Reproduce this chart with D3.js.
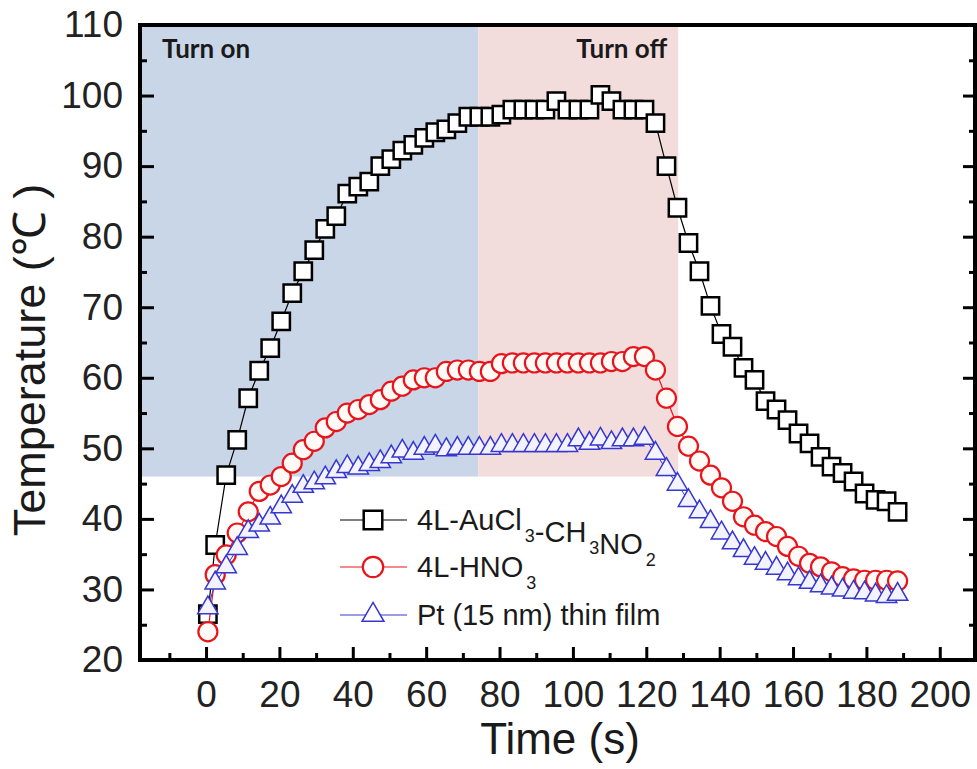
<!DOCTYPE html>
<html>
<head>
<meta charset="utf-8">
<script src="https://cdn.jsdelivr.net/npm/d3@7"></script>
<style>
  html, body { margin: 0; padding: 0; background: #fff; }
  svg { display: block; }
  .tick text { font-family: "Liberation Sans", Arial, sans-serif; fill: #222; }
</style>
</head>
<body>
<div id="chart"></div>
<script>
// time in seconds, one reading every 3 s
var times = [0.5, 2.5, 5.5, 8.5, 11.5, 14.5, 17.5, 20.5, 23.5, 26.5, 29.5, 32.5, 35.5, 38.5, 41.5, 44.5,
  47.5, 50.5, 53.5, 56.5, 59.5, 62.5, 65.5, 68.5, 71.5, 74.5, 77.5, 80.5, 83.5, 86.5, 89.5, 92.5,
  95.5, 98.5, 101.5, 104.5, 107.5, 110.5, 113.5, 116.5, 119.5, 122.5, 125.5, 128.5, 131.5, 134.5, 137.5, 140.5,
  143.5, 146.5, 149.5, 152.5, 155.5, 158.5, 161.5, 164.5, 167.5, 170.5, 173.5, 176.5, 179.5, 182.5, 185.5, 188.5];

var auclTemp = [26.5, 36.3, 46.2, 51.2, 57.1, 61.0, 64.2, 68.0, 72.0, 75.1, 78.1, 81.1, 82.9, 86.1, 87.1, 87.8,
  90.0, 91.0, 92.2, 93.0, 94.0, 94.8, 95.2, 96.1, 97.0, 97.0, 97.0, 97.3, 98.0, 98.0, 98.0, 98.0,
  99.2, 98.0, 98.0, 98.0, 100.1, 99.2, 98.0, 98.0, 98.0, 96.1, 90.0, 84.1, 79.1, 75.1, 70.2, 66.2,
  64.4, 61.4, 59.7, 56.7, 55.5, 54.0, 52.1, 50.7, 48.8, 47.4, 46.5, 45.3, 43.6, 42.7, 42.5, 41.0];

var hno3Temp = [24.0, 32.1, 34.9, 38.0, 41.0, 43.9, 44.8, 46.0, 47.9, 49.8, 51.0, 52.9, 53.8, 55.0, 55.5, 56.2,
  56.9, 58.1, 58.8, 59.7, 60.0, 60.0, 60.9, 61.1, 61.1, 60.9, 60.9, 62.0, 62.1, 62.1, 62.1, 62.1,
  62.1, 62.1, 62.1, 62.1, 62.1, 62.3, 62.3, 63.0, 63.0, 61.1, 57.1, 53.1, 50.3, 48.2, 46.2, 44.4,
  42.5, 40.3, 39.1, 38.2, 37.5, 36.1, 34.7, 33.7, 33.2, 32.5, 31.8, 31.5, 31.3, 31.3, 31.3, 31.2];

var ptTemp = [27.4, 30.9, 33.2, 35.8, 38.2, 39.1, 40.1, 41.7, 43.2, 44.6, 45.1, 45.8, 46.7, 47.4, 47.2, 47.7,
  48.1, 48.8, 49.6, 49.3, 50.0, 50.3, 49.8, 50.0, 50.0, 50.0, 50.0, 50.4, 50.4, 50.4, 50.4, 50.4,
  50.4, 50.4, 51.2, 50.7, 51.3, 50.8, 51.2, 51.2, 51.4, 49.3, 47.0, 44.9, 42.6, 41.0, 39.6, 38.0,
  36.6, 35.5, 34.4, 33.7, 33.0, 32.2, 31.5, 31.0, 30.5, 30.2, 29.9, 29.6, 29.5, 29.2, 29.0, 29.3];

var xTicks = [0, 20, 40, 60, 80, 100, 120, 140, 160, 180, 200];
var xMinor = [-10, 10, 30, 50, 70, 90, 110, 130, 150, 170, 190];
var yTicks = [20, 30, 40, 50, 60, 70, 80, 90, 100, 110];
var yMinor = [25, 35, 45, 55, 65, 75, 85, 95, 105];

// shaded phases: [start, end] in seconds, down to phaseBottom degrees
var phaseNames = ["Turn on", "Turn off"];
var phaseStart = [-18, 74.2];
var phaseEnd = [74.2, 128.7];
var phaseBottom = 46;

var seriesNames = ["4L-AuCl3-CH3NO2", "4L-HNO3", "Pt (15 nm) thin film"];

var W = 977, H = 769;
var svg = d3.select("#chart").append("svg")
  .attr("width", W)
  .attr("height", H);

var x = d3.scaleLinear().domain([-18, 209.6]).range([140, 975]);
var y = d3.scaleLinear().domain([20, 110]).range([660, 25]);

// phase shading
var phaseFill = ["#c8d6e8", "#f3dcdc"];
svg.selectAll(".phase")
  .data(phaseNames)
  .enter().append("rect")
  .attr("class", "phase")
  .attr("x", function (d, i) { return x(phaseStart[i]); })
  .attr("y", y(110))
  .attr("width", function (d, i) { return x(phaseEnd[i]) - x(phaseStart[i]); })
  .attr("height", y(phaseBottom) - y(110))
  .attr("fill", function (d, i) { return phaseFill[i]; });

svg.append("text")
  .attr("x", 162).attr("y", 58)
  .style("font-family", "Lato, 'Open Sans', sans-serif")
  .style("font-weight", 700).style("font-size", "26px").style("fill", "#1a1a1a")
  .text(phaseNames[0]);
svg.append("text")
  .attr("x", x(phaseEnd[1]) - 11).attr("y", 58)
  .attr("text-anchor", "end")
  .style("font-family", "Lato, 'Open Sans', sans-serif")
  .style("font-weight", 700).style("font-size", "26px").style("fill", "#1a1a1a")
  .text(phaseNames[1]);

// axes, ticks point inward
function styleAxis(g) {
  g.select(".domain").remove();
  g.selectAll(".tick line").attr("stroke", "#000").attr("stroke-width", 3);
}

svg.append("g")
  .attr("transform", "translate(0,660)")
  .call(d3.axisBottom(x).tickValues(xTicks).tickSizeInner(-13).tickSizeOuter(0).tickPadding(21))
  .call(styleAxis)
  .selectAll("text").style("font-size", "37px");
svg.append("g")
  .attr("transform", "translate(0,660)")
  .call(d3.axisBottom(x).tickValues(xMinor).tickSizeInner(-7).tickSizeOuter(0).tickFormat(""))
  .call(styleAxis);

svg.append("g")
  .attr("transform", "translate(140,0)")
  .call(d3.axisLeft(y).tickValues(yTicks).tickSizeInner(-14).tickSizeOuter(0).tickPadding(17))
  .call(styleAxis)
  .selectAll("text").style("font-size", "37px");
svg.append("g")
  .attr("transform", "translate(140,0)")
  .call(d3.axisLeft(y).tickValues(yMinor).tickSizeInner(-7).tickSizeOuter(0).tickFormat(""))
  .call(styleAxis);

svg.append("g")
  .attr("transform", "translate(975,0)")
  .call(d3.axisRight(y).tickValues(yTicks).tickSizeInner(-12).tickSizeOuter(0).tickFormat(""))
  .call(styleAxis);
svg.append("g")
  .attr("transform", "translate(975,0)")
  .call(d3.axisRight(y).tickValues(yMinor).tickSizeInner(-6).tickSizeOuter(0).tickFormat(""))
  .call(styleAxis);

// frame
svg.append("rect")
  .attr("x", 140).attr("y", 25)
  .attr("width", 835).attr("height", 635)
  .attr("fill", "none").attr("stroke", "#000").attr("stroke-width", 4);

// axis titles
svg.append("text")
  .attr("x", 560).attr("y", 754)
  .attr("text-anchor", "middle")
  .style("font-family", "'Liberation Sans', Arial, sans-serif")
  .style("font-size", "44px").style("fill", "#1a1a1a")
  .text("Time (s)");
svg.append("text")
  .attr("transform", "translate(45,360) rotate(-90)")
  .attr("text-anchor", "middle")
  .style("font-family", "'Liberation Sans', Arial, sans-serif")
  .style("font-size", "45px").style("fill", "#1a1a1a")
  .text("Temperature (\u2103 )");

// series
var series = [
  { values: auclTemp, stroke: "#000", fill: "#fff", width: 2.5, lineWidth: 1.2, symbol: d3.symbolSquare, size: 300 },
  { values: hno3Temp, stroke: "#e8141c", fill: "#fffaf6", width: 2.2, lineWidth: 1.2, symbol: d3.symbolCircle, size: 285 },
  { values: ptTemp, stroke: "#3636d0", fill: "#f3f3ff", width: 1.5, lineWidth: 1, symbol: d3.symbolTriangle, size: 180 }
];

var line = d3.line()
  .x(function (d, i) { return x(times[i]); })
  .y(function (d) { return y(d); });

series.forEach(function (s) {
  svg.append("path")
    .datum(s.values)
    .attr("d", line)
    .attr("fill", "none")
    .attr("stroke", s.stroke)
    .attr("stroke-width", s.lineWidth);

  var sym = d3.symbol().type(s.symbol).size(s.size);
  svg.append("g").selectAll("path")
    .data(s.values)
    .enter().append("path")
    .attr("d", sym)
    .attr("transform", function (d, i) { return "translate(" + x(times[i]) + "," + y(d) + ")"; })
    .attr("fill", s.fill)
    .attr("stroke", s.stroke)
    .attr("stroke-width", s.width);
});

// legend
var legendY = [520, 567, 615];
var legend = svg.append("g")
  .style("font-family", "'Liberation Sans', Arial, sans-serif")
  .style("fill", "#1a1a1a");

series.forEach(function (s, i) {
  var ly = legendY[i];
  legend.append("line")
    .attr("x1", 340).attr("x2", 407)
    .attr("y1", ly).attr("y2", ly)
    .attr("stroke", s.stroke).attr("stroke-width", s.lineWidth);
  legend.append("path")
    .attr("d", d3.symbol().type(s.symbol).size(s.size * 1.15))
    .attr("transform", "translate(373," + ly + ")")
    .attr("fill", "#fff")
    .attr("stroke", s.stroke)
    .attr("stroke-width", s.width);
});

function subText(sel, parts) {
  parts.forEach(function (p) {
    if (p.sub) {
      sel.append("tspan").attr("dx", 3).attr("dy", 12).style("font-size", "18px").text(p.t);
      sel.append("tspan").attr("dx", 3).attr("dy", -12).text("");
    } else {
      sel.append("tspan").text(p.t);
    }
  });
}

var t0 = legend.append("text").attr("x", 417).attr("y", legendY[0] + 10).style("font-size", "29px");
subText(t0, [{ t: "4L-AuCl" }, { t: "3", sub: true }, { t: "-CH" }, { t: "3", sub: true }, { t: "NO" }, { t: "2", sub: true }]);
var t1 = legend.append("text").attr("x", 417).attr("y", legendY[1] + 10).style("font-size", "29px");
subText(t1, [{ t: "4L-HNO" }, { t: "3", sub: true }]);
legend.append("text").attr("x", 417).attr("y", legendY[2] + 10).style("font-size", "29px")
  .text(seriesNames[2]);
</script>
</body>
</html>
